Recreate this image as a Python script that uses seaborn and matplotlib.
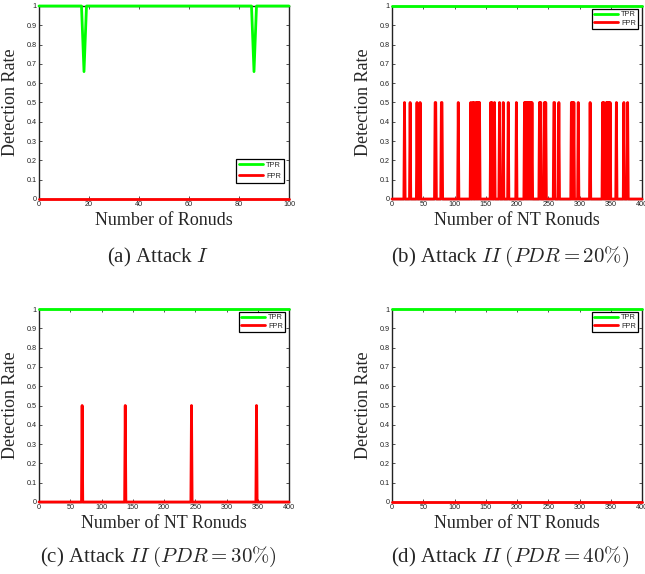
import numpy as np
import pandas as pd
import matplotlib
matplotlib.use("Agg")
import matplotlib.pyplot as plt
import seaborn as sns

# x ranges
rounds_a = np.arange(0, 101)
rounds_nt = np.arange(0, 401)

# (a) Attack I: TPR dips, FPR stays at 0
tpr_dip_rounds_a = [18, 86]
tpr_dip_value_a = 0.66

# (b) PDR = 20%: rounds where FPR = 0.5
fpr_rounds_b = [20, 29, 40, 45, 69, 70, 79, 80, 106, 126, 129, 131, 134, 136,
                138, 140, 158, 160, 164, 172, 178, 186, 199, 212, 214, 216,
                218, 220, 222, 224, 236, 238, 244, 246, 259, 260, 267, 287,
                289, 291, 298, 317, 337, 339, 343, 345, 347, 349, 359, 371, 377]
# (c) PDR = 30%
fpr_rounds_c = [69, 138, 244, 348]
# (d) PDR = 40%: none
fpr_rounds_d = []
fpr_spike_value = 0.5

captions = [r"(a) Attack $I$",
            r"(b) Attack $II$ $(PDR = 20\%)$",
            r"(c) Attack $II$ $(PDR = 30\%)$",
            r"(d) Attack $II$ $(PDR = 40\%)$"]

sns.set_style("ticks")
plt.rcParams["font.family"] = ["Liberation Sans", "DejaVu Sans"]
plt.rcParams["mathtext.fontset"] = "cm"
plt.rcParams["xtick.direction"] = "in"
plt.rcParams["ytick.direction"] = "in"

GREEN = "#00ff00"
RED = "#ff0000"

def make_series(rounds, marks, value, base):
    s = pd.Series(base, index=rounds, dtype=float)
    for r in marks:
        s.loc[r] = value
    return s

panels = []
tpr = make_series(rounds_a, tpr_dip_rounds_a, tpr_dip_value_a, 1.0)
fpr = make_series(rounds_a, [], 0, 0.0)
panels.append((rounds_a, tpr, fpr, "Number of Ronuds"))
for marks in [fpr_rounds_b, fpr_rounds_c, fpr_rounds_d]:
    tpr = make_series(rounds_nt, [], 1, 1.0)
    fpr = make_series(rounds_nt, marks, fpr_spike_value, 0.0)
    panels.append((rounds_nt, tpr, fpr, "Number of NT Ronuds"))

fig = plt.figure(figsize=(6.45, 5.74), dpi=100)
W, H = 645, 574
boxes = [(39, 6), (392, 6), (39, 309), (392, 309)]
aw, ah = 250, 193

for i, ((x, tpr, fpr, xlabel), (px, py)) in enumerate(zip(panels, boxes)):
    ax = fig.add_axes([px / W, 1 - (py + ah) / H, aw / W, ah / H])
    sns.lineplot(x=x, y=tpr.values, ax=ax, color=GREEN, lw=2, label="TPR",
                 estimator=None, clip_on=False, zorder=3)
    sns.lineplot(x=x, y=fpr.values, ax=ax, color=RED, lw=2, label="FPR",
                 estimator=None, clip_on=False, zorder=3)
    ax.set_xlim(x[0], x[-1])
    ax.set_ylim(0, 1)
    ax.set_yticks(np.arange(0, 1.01, 0.1))
    ax.set_yticklabels(["0", "0.1", "0.2", "0.3", "0.4", "0.5", "0.6", "0.7",
                        "0.8", "0.9", "1"])
    if x[-1] == 100:
        ax.set_xticks(np.arange(0, 101, 20))
    else:
        ax.set_xticks(np.arange(0, 401, 50))
    ax.tick_params(labelsize=5.2, length=2.5, width=0.6, pad=1.5,
                   top=True, right=True, colors="#333333", labelcolor="#222222")
    for sp in ax.spines.values():
        sp.set_linewidth(1.0)
        sp.set_color("#222222")
    ax.set_xlabel(xlabel, fontsize=13, family=["Liberation Serif"])
    ax.set_ylabel("Detection Rate", fontsize=13, family=["Liberation Serif"])
    ax.xaxis.set_label_coords(0.5, -0.068)
    ax.yaxis.set_label_coords(-0.078, 0.5)
    if i == 0:
        leg = ax.legend(loc="lower right", bbox_to_anchor=(0.995, 0.065),
                        fontsize=5.3, handlelength=3.3, borderpad=0.4,
                        labelspacing=0.5, fancybox=False, framealpha=1,
                        edgecolor="black", handletextpad=0.4)
    else:
        leg = ax.legend(loc="upper right", bbox_to_anchor=(0.985, 0.985),
                        fontsize=5.3, handlelength=3.3, borderpad=0.3,
                        labelspacing=0.2, fancybox=False, framealpha=1,
                        edgecolor="black", handletextpad=0.4,
                        borderaxespad=0)
    leg.get_frame().set_linewidth(0.9)

# captions
cap_size = 15
fig.text(158 / W, 1 - 257 / H, captions[0], ha="center", va="center",
         fontsize=cap_size, family=["Liberation Serif"])
fig.text(510 / W, 1 - 257 / H, captions[1], ha="center", va="center",
         fontsize=cap_size, family=["Liberation Serif"])
fig.text(158 / W, 1 - 557 / H, captions[2], ha="center", va="center",
         fontsize=cap_size, family=["Liberation Serif"])
fig.text(510 / W, 1 - 557 / H, captions[3], ha="center", va="center",
         fontsize=cap_size, family=["Liberation Serif"])

fig.savefig("out.png", dpi=100)
